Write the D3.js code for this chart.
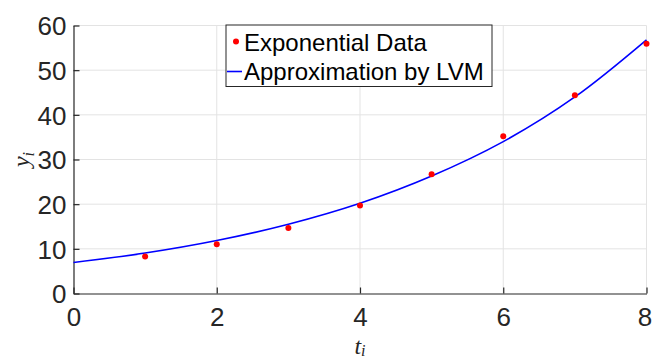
<!DOCTYPE html>
<html>
<meta charset="utf-8">
<title>Exponential Data and LVM Approximation</title>
<style>
	body { margin: 0; background-color: #ffffff; }
	.tick text { font: 26px "Liberation Sans", Arial, sans-serif; fill: #262626; }
	.legend text { font: 24px "Liberation Sans", Arial, sans-serif; fill: #000000; }
	.label { font: italic 24px "Liberation Serif", "Times New Roman", serif; fill: #262626; }
</style>
<body>
<div id="chart"></div>
<script src="https://d3js.org/d3.v7.min.js"></script>
<script>

	// Measured data points
	var dataT = [1, 2, 3, 4, 5, 6, 7, 8];
	var dataY = [8.3, 11.0, 14.65, 19.7, 26.7, 35.2, 44.4, 55.9];

	// Fitted curve
	var fitT = [0, 1, 2, 3, 4, 5, 6, 7, 8];
	var fitY = [6.95, 9.05, 11.85, 15.5, 20.2, 26.3, 34.0, 44.0, 56.8];

	var xTicks = [0, 2, 4, 6, 8];
	var yTicks = [0, 10, 20, 30, 40, 50, 60];
	var legendNames = ["Exponential Data", "Approximation by LVM"];

	var margin = { top: 25.5, right: 5.5, bottom: 66.5, left: 73.5 },
		width = 652 - margin.left - margin.right,
		height = 360 - margin.top - margin.bottom;

	var svg = d3.select("#chart").append("svg")
		.attr("width", 652)
		.attr("height", 360)
		.append("g")
		.attr("transform", "translate(" + margin.left + "," + margin.top + ")");

	var x = d3.scaleLinear().domain([0, 8]).range([0, width]),
		y = d3.scaleLinear().domain([0, 60]).range([height, 0]);

	// Grid
	svg.append("g").selectAll("line").data(xTicks.slice(1)).enter().append("line")
		.attr("x1", function (d) { return x(d); })
		.attr("x2", function (d) { return x(d); })
		.attr("y1", 0).attr("y2", height)
		.attr("stroke", "#e3e3e3").attr("stroke-width", 1);
	svg.append("g").selectAll("line").data(yTicks.slice(1)).enter().append("line")
		.attr("y1", function (d) { return y(d); })
		.attr("y2", function (d) { return y(d); })
		.attr("x1", 0).attr("x2", width)
		.attr("stroke", "#e3e3e3").attr("stroke-width", 1);

	// Axes, ticks pointing inward
	var xAxis = d3.axisBottom(x).tickValues(xTicks).tickSizeInner(-6).tickSizeOuter(0).tickPadding(14);
	var yAxis = d3.axisLeft(y).tickValues(yTicks).tickSizeInner(-6).tickSizeOuter(0).tickPadding(7);

	var gx = svg.append("g").attr("transform", "translate(0," + height + ")").call(xAxis);
	var gy = svg.append("g").call(yAxis);
	[gx, gy].forEach(function (g) {
		g.select(".domain").attr("stroke", "#262626").attr("stroke-width", 1.2);
		g.selectAll(".tick line").attr("stroke", "#262626").attr("stroke-width", 1.2);
	});
	gy.selectAll(".tick text").attr("dy", "0.36em");
	// last label sits right at the window edge
	gx.selectAll(".tick text").filter(function (d) { return d === 8; }).attr("dx", -2);

	// Fitted curve
	var line = d3.line()
		.x(function (d, i) { return x(fitT[i]); })
		.y(function (d) { return y(d); })
		.curve(d3.curveCatmullRom);

	svg.append("path")
		.datum(fitY)
		.attr("d", line)
		.attr("fill", "none")
		.attr("stroke", "#0000ff")
		.attr("stroke-width", 1.6);

	// Data dots
	svg.append("g").selectAll("circle").data(dataY).enter().append("circle")
		.attr("cx", function (d, i) { return x(dataT[i]); })
		.attr("cy", function (d) { return y(d); })
		.attr("r", 3)
		.attr("fill", "#ff0000");

	// Axis labels
	var yl = svg.append("text").attr("class", "label")
		.attr("transform", "translate(" + (29 - margin.left) + "," + (y(30)) + ") rotate(-90)")
		.attr("text-anchor", "middle");
	yl.append("tspan").text("y");
	yl.append("tspan").attr("font-size", "16px").attr("dy", "5").text("i");

	var xl = svg.append("text").attr("class", "label")
		.attr("x", x(4)).attr("y", height + 60)
		.attr("text-anchor", "middle");
	xl.append("tspan").text("t");
	xl.append("tspan").attr("font-size", "16px").attr("dy", "2").text("i");

	// Legend
	var legend = svg.append("g").attr("class", "legend")
		.attr("transform", "translate(" + (226 - margin.left) + "," + (25 - margin.top) + ")");
	legend.append("rect")
		.attr("width", 266).attr("height", 61.5)
		.attr("fill", "#ffffff")
		.attr("stroke", "#262626").attr("stroke-width", 1);
	legend.append("circle").attr("cx", 10).attr("cy", 16.5).attr("r", 3).attr("fill", "#ff0000");
	legend.append("line").attr("x1", 1).attr("x2", 16).attr("y1", 46.5).attr("y2", 46.5)
		.attr("stroke", "#0000ff").attr("stroke-width", 1.6);
	legend.selectAll("text").data(legendNames).enter().append("text")
		.attr("x", 18)
		.attr("y", function (d, i) { return 25.5 + i * 29.5; })
		.text(function (d) { return d; });

</script>
</body>
</html>
